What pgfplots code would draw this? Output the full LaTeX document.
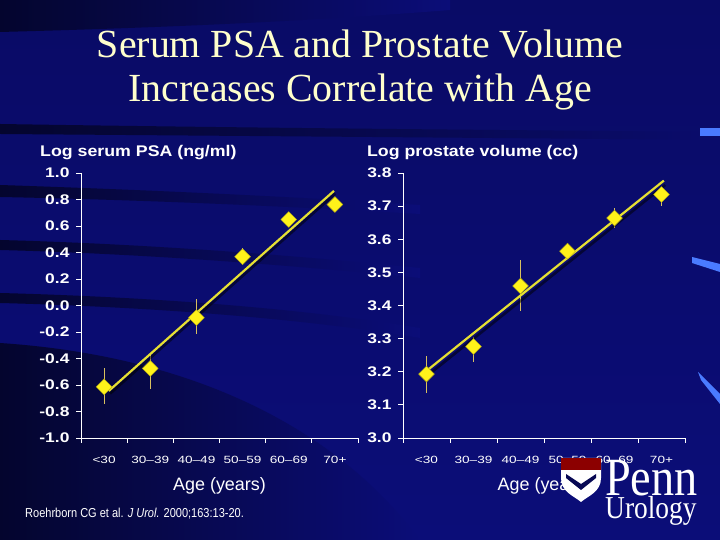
\documentclass[border=0pt]{standalone}
\usepackage{fontspec}
\setmainfont{Liberation Sans}
\newfontfamily\seriffont{Liberation Serif}
\usepackage{pgfplots}
\pgfplotsset{compat=1.18}

\definecolor{bg}{HTML}{0B0D78}
\definecolor{bgdark}{HTML}{04052E}
\definecolor{titlecol}{HTML}{FFFFCC}
\definecolor{pt}{HTML}{FFF21A}
\definecolor{fit}{HTML}{E6E032}
\definecolor{err}{HTML}{D8C060}
\definecolor{edge}{HTML}{4A7BFF}

\newcommand\sx[1]{\scalebox{1.3}[1]{#1}}
\tikzset{lab/.style={white, inner sep=0pt}}

\pgfplotstableread{
x y ep em
0 -0.614 0.139 0.132
1 -0.475 0.107 0.156
2 -0.092 0.143 0.125
3 0.368 0.067 0.048
4 0.649 0.020 0.020
5 0.762 0.020 0.020
}\psa
\pgfplotstableread{
x y ep em
0 3.193 0.055 0.056
1 3.276 0.030 0.048
2 3.459 0.077 0.076
3 3.564 0.025 0.020
4 3.664 0.031 0.030
5 3.735 0.015 0.035
}\vol

\pgfplotsset{
  slide/.style={
    scale only axis, height=265bp,
    axis lines*=left, axis line style={white, line width=0.8pt},
    xmin=-0.5, xmax=5.5,
    xtick={-0.5,0.5,...,5.5}, xticklabels={},
    extra x ticks={0,1,2,3,4,5},
    extra x tick labels={\sx{<30},\sx{30–39},\sx{40–49},\sx{50–59},\sx{60–69},\sx{70+}},
    extra x tick style={major tick length=0pt},
    tick align=outside, major tick length=5bp,
    tick style={white, line width=0.8pt},
    xticklabel style={white, font=\fontsize{10.5}{12}\selectfont, yshift=-15bp},
    yticklabel style={white, font=\fontsize{14}{16}\selectfont\bfseries, xshift=-3bp},
    yticklabel={\scalebox{1.25}[1]{\pgfmathprintnumber{\tick}}},
    /pgf/number format/assume math mode=true,
    /pgf/number format/fixed, /pgf/number format/fixed zerofill,
    /pgf/number format/precision=1,
    clip=false,
  },
  errs/.style={draw=none, mark=none, forget plot,
    error bars/.cd, y dir=both, y explicit, error mark=none,
    error bar style={err, line width=1pt}},
  dots/.style={only marks, mark=square*, mark size=5.6bp,
    mark options={rotate=45, fill=pt, draw=pt!70!black, line width=0.4pt}},
}

\begin{document}
\begin{tikzpicture}[x=1bp, y=1bp]
\useasboundingbox (0,0) rectangle (720,540);
\begin{scope}
\clip (0,0) rectangle (720,540);
\shade[top color=bg!85!black, bottom color=bg] (0,0) rectangle (720,540);
% darker bands fading to the right
\shade[left color=bgdark, right color=bg] (0,540) -- (0,508) .. controls (150,512) and (300,518) .. (450,530) -- (450,540) -- cycle;
\shade[left color=bgdark, right color=bg!90!black] (0,416) .. controls (250,412) and (500,410) .. (720,408) -- (720,400) .. controls (500,402) and (250,404) .. (0,406) -- cycle;
\shade[left color=bgdark, right color=bg] (0,355) .. controls (150,350) and (300,343) .. (420,335) -- (420,326) .. controls (300,333) and (150,340) .. (0,343) -- cycle;
\shade[left color=bgdark, right color=bg] (0,300) .. controls (150,296) and (300,284) .. (420,272) -- (420,262) .. controls (300,274) and (150,286) .. (0,290) -- cycle;
\shade[left color=bgdark, right color=bg] (0,247) .. controls (150,243) and (300,232) .. (420,212) -- (420,202) .. controls (300,222) and (150,233) .. (0,237) -- cycle;
\shade[left color=bgdark, right color=bg] (0,0) -- (0,197) .. controls (180,185) and (330,120) .. (420,0) -- cycle;
% light blue edge marks
\fill[edge] (700,404) rectangle (720,412);
\fill[edge] (692,283) -- (720,276) -- (720,268) -- (692,277) -- cycle;
\fill[edge] (698,168) -- (720,146) -- (720,136) -- (701,160) -- cycle;
\end{scope}

\node[titlecol, font=\seriffont\fontsize{40}{45}\selectfont, align=center]
  at (360,470) {Serum PSA and Prostate Volume\\Increases Correlate with Age};

\begin{axis}[slide, at={(81bp,102bp)}, anchor=south west, width=277bp,
  ymin=-1, ymax=1, ytick={-1,-0.8,...,1.01}]
\addplot[errs] table[x=x, y=y, y error plus=ep, y error minus=em] {\psa};
\addplot[black, opacity=0.5, line width=2.6bp, forget plot] coordinates {(0.13,-0.665) (5.01,0.845)};
\addplot[fit, line width=2.2bp] coordinates {(0.1,-0.645) (4.98,0.865)};
\addplot[dots] table[x=x, y=y] {\psa};
\node[lab, anchor=base west, font=\fontsize{15.5}{16}\selectfont\bfseries] at (rel axis cs:-0.148,1.062) {\scalebox{1.15}[1]{Log serum PSA (ng/ml)}};
\node[lab, anchor=base, font=\fontsize{18}{19}\selectfont] at (rel axis cs:0.5,-0.198) {Age (years)};
\end{axis}

\begin{axis}[slide, at={(403bp,102bp)}, anchor=south west, width=282bp,
  ymin=3, ymax=3.8, ytick={3,3.1,...,3.81}]
\addplot[errs] table[x=x, y=y, y error plus=ep, y error minus=em] {\vol};
\addplot[black, opacity=0.5, line width=2.6bp, forget plot] coordinates {(-0.01,3.185) (5.08,3.764)};
\addplot[fit, line width=2.2bp] coordinates {(-0.04,3.198) (5.05,3.777)};
\addplot[dots] table[x=x, y=y] {\vol};
\node[lab, anchor=base west, font=\fontsize{15.5}{16}\selectfont\bfseries] at (rel axis cs:-0.128,1.062) {\scalebox{1.15}[1]{Log prostate volume (cc)}};
\node[lab, anchor=base, font=\fontsize{18}{19}\selectfont] at (rel axis cs:0.5,-0.198) {Age (years)};
\end{axis}

\node[lab, anchor=base west, font=\fontsize{13}{14}\selectfont] at (25,22)
  {\scalebox{0.85}[1]{Roehrborn CG et al. \textit{J Urol.} 2000;163:13-20.}};
% Penn Urology mark
\fill[white] (561,82) -- (601,82) -- (601,62) .. controls (601,48) and (588,44) .. (581,38) .. controls (574,44) and (561,48) .. (561,62) -- cycle;
\fill[red!55!black] (561,82) rectangle (601,70);
\fill[bg!70!black] (566,62) -- (581,50) -- (596,62) -- (596,66) -- (581,56) -- (566,66) -- cycle;
\node[lab, anchor=base west, font=\seriffont\fontsize{54}{54}\selectfont] at (605,44) {\scalebox{0.86}[1]{Penn}};
\node[lab, anchor=base west, font=\seriffont\fontsize{32}{32}\selectfont] at (605,21) {\scalebox{0.86}[1]{Urology}};
\end{tikzpicture}
\end{document}
